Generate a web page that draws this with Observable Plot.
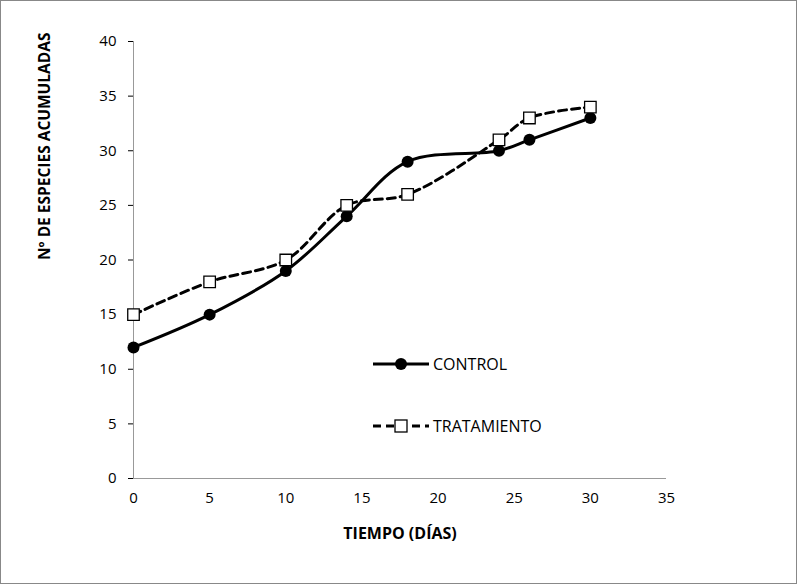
<!DOCTYPE html>
<html><head><meta charset="utf-8">
<script src="https://cdn.jsdelivr.net/npm/d3@7"></script>
<script src="https://cdn.jsdelivr.net/npm/@observablehq/plot@0.6"></script>
<style>
body{margin:0;background:#fff;font-family:"Open Sans",sans-serif}
#wrap{position:relative;width:795px;height:582px;border:1px solid #888}
#leg{position:absolute;left:368px;top:350px;font-size:16px}
</style></head><body>
<div id="wrap"><div id="chart"></div>
<svg id="leg" width="220" height="90" style="overflow:visible">
<line x1="4" y1="13" x2="60" y2="13" stroke="#000" stroke-width="3"/>
<circle cx="32" cy="13" r="6" fill="#000"/>
<text x="64" y="19" font-family="Open Sans" font-size="16">CONTROL</text>
<line x1="4" y1="75" x2="60" y2="75" stroke="#000" stroke-width="3" stroke-dasharray="8,5"/>
<rect x="26" y="69" width="12" height="12" fill="#fff" stroke="#000" stroke-width="1.3"/>
<text x="64" y="81" font-family="Open Sans" font-size="16">TRATAMIENTO</text>
</svg></div>
<script>
const days = [0,5,10,14,18,24,26,30];
const control = [12,15,19,24,29,30,31,33];
const tratamiento = [15,18,20,25,26,31,33,34];
const xTicks = [0,5,10,15,20,25,30,35];
const yTicks = [0,5,10,15,20,25,30,35,40];
const c = days.map((d,i)=>({x:d,y:control[i]}));
const t = days.map((d,i)=>({x:d,y:tratamiento[i]}));
const chart = Plot.plot({
  width:795,height:582,marginLeft:132,marginRight:130,marginTop:40,marginBottom:105,
  style:{fontFamily:"Open Sans",fontSize:"15px",color:"#000"},
  x:{domain:[0,35],ticks:xTicks,label:null,tickSize:0,tickPadding:14},
  y:{domain:[0,40],ticks:yTicks,label:null,tickSize:5,tickPadding:12},
  marks:[
    Plot.ruleX([0],{stroke:"#999"}),
    Plot.ruleY([0],{stroke:"#999"}),
    Plot.line(c,{x:"x",y:"y",curve:"catmull-rom",stroke:"#000",strokeWidth:3}),
    Plot.dot(c,{x:"x",y:"y",r:6,fill:"#000"}),
    Plot.line(t,{x:"x",y:"y",curve:"catmull-rom",stroke:"#000",strokeWidth:3,strokeDasharray:"8,5"}),
    Plot.dot(t,{x:"x",y:"y",symbol:"square",r:6.5,fill:"#fff",stroke:"#000",strokeWidth:1.3}),
    Plot.text(["TIEMPO (DÍAS)"],{frameAnchor:"bottom",dy:60,fontWeight:"bold",fontSize:16}),
    Plot.text(["Nº DE ESPECIES ACUMULADAS"],{frameAnchor:"left",dx:-88,rotate:-90,fontWeight:"bold",fontSize:15.5})
  ]
});
chart.querySelectorAll("[aria-label$='axis'] path").forEach(p=>p.setAttribute("stroke","#999"));
document.getElementById("chart").append(chart);
</script></body></html>
